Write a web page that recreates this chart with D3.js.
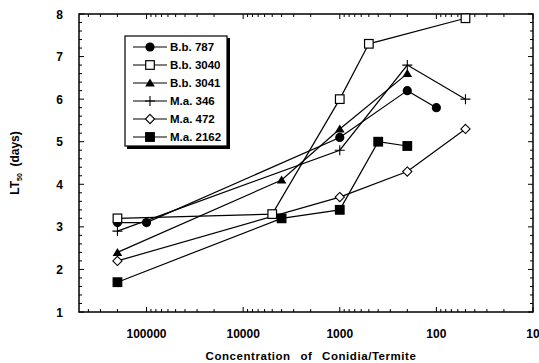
<!DOCTYPE html>
<html>
<head>
<meta charset="utf-8">
<script src="https://d3js.org/d3.v7.min.js"></script>
<style>
  body { margin: 0; background: #fff; }
  svg { display: block; }
  text { font-family: "Liberation Sans", Arial, sans-serif; font-weight: bold; fill: #000; }
</style>
</head>
<body>
<div id="chart"></div>
<script>
// LT50 vs. conidia concentration (x axis is a reversed log scale)
const seriesNames = ["B.b. 787", "B.b. 3040", "B.b. 3041", "M.a. 346", "M.a. 472", "M.a. 2162"];
const seriesShapes = ["circle", "openSquare", "triangle", "plus", "openDiamond", "square"];

const bb787Conc = [200000, 100000, 1000, 200, 100];
const bb787LT = [3.1, 3.1, 5.1, 6.2, 5.8];
const bb3040Conc = [200000, 5000, 1000, 500, 50];
const bb3040LT = [3.2, 3.3, 6.0, 7.3, 7.9];
const bb3041Conc = [200000, 4000, 1000, 200];
const bb3041LT = [2.4, 4.1, 5.3, 6.6];
const ma346Conc = [200000, 1000, 200, 50];
const ma346LT = [2.9, 4.8, 6.8, 6.0];
const ma472Conc = [200000, 1000, 200, 50];
const ma472LT = [2.2, 3.7, 4.3, 5.3];
const ma2162Conc = [200000, 4000, 1000, 400, 200];
const ma2162LT = [1.7, 3.2, 3.4, 5.0, 4.9];

const xTickLabels = [100000, 10000, 1000, 100, 10];
const yTickLabels = [1, 2, 3, 4, 5, 6, 7, 8];

const allConc = [bb787Conc, bb3040Conc, bb3041Conc, ma346Conc, ma472Conc, ma2162Conc];
const allLT = [bb787LT, bb3040LT, bb3041LT, ma346LT, ma472LT, ma2162LT];

const width = 539, height = 363;
const plot = { left: 79, right: 533, top: 14, bottom: 312 };

const svg = d3.select('#chart').append('svg')
    .attr('width', width)
    .attr('height', height);

const x = d3.scaleLog().domain([500000, 10]).range([plot.left, plot.right]);
const y = d3.scaleLinear().domain([1, 8]).range([plot.bottom, plot.top]);

// frame ticks (inward on all four sides)
const ticks = svg.append('g').attr('stroke', '#000').attr('stroke-width', 1);
const xt = x.ticks().filter(v => v < 500000 && v >= 10);
xt.forEach(v => {
    const major = xTickLabels.includes(v);
    const len = major ? 5 : 3;
    const px = x(v);
    ticks.append('line').attr('x1', px).attr('x2', px).attr('y1', plot.bottom).attr('y2', plot.bottom - len);
    ticks.append('line').attr('x1', px).attr('x2', px).attr('y1', plot.top).attr('y2', plot.top + len);
});
d3.range(1, 8.01, 0.2).forEach(v => {
    const major = Math.abs(v - Math.round(v)) < 1e-6;
    const len = major ? 5 : 3;
    const py = y(v);
    ticks.append('line').attr('x1', plot.left).attr('x2', plot.left + len).attr('y1', py).attr('y2', py);
    ticks.append('line').attr('x1', plot.right).attr('x2', plot.right - len).attr('y1', py).attr('y2', py);
});

svg.append('rect')
    .attr('x', plot.left).attr('y', plot.top)
    .attr('width', plot.right - plot.left).attr('height', plot.bottom - plot.top)
    .attr('fill', 'none').attr('stroke', '#000').attr('stroke-width', 1.5);

// tick labels
svg.append('g').selectAll('text').data(xTickLabels).join('text')
    .attr('x', d => x(d)).attr('y', 338)
    .attr('text-anchor', 'middle').attr('font-size', 12)
    .text(d => d);

svg.append('g').selectAll('text').data(yTickLabels).join('text')
    .attr('x', 63).attr('y', d => y(d) + 4.5)
    .attr('text-anchor', 'end').attr('font-size', 12)
    .text(d => d);

// axis titles
svg.append('text')
    .attr('x', 311).attr('y', 360)
    .attr('text-anchor', 'middle').attr('font-size', 11.5)
    .attr('letter-spacing', 0.55).attr('word-spacing', 6)
    .text('Concentration of Conidia/Termite');

const yTitle = svg.append('text')
    .attr('transform', 'translate(19,163) rotate(-90)')
    .attr('text-anchor', 'middle').attr('font-size', 12);
yTitle.append('tspan').text('LT');
yTitle.append('tspan').attr('font-size', 7).attr('dy', 3).text('50');
yTitle.append('tspan').attr('dy', -3).text('\u00a0 (days)');

// markers
function drawMarker(g, shape) {
    if (shape === 'circle') {
        g.append('circle').attr('r', 4.6).attr('fill', '#000');
    } else if (shape === 'openSquare' || shape === 'square') {
        g.append('rect').attr('x', -4.3).attr('y', -4.3).attr('width', 8.6).attr('height', 8.6)
            .attr('fill', shape === 'square' ? '#000' : '#fff')
            .attr('stroke', '#000').attr('stroke-width', 1.2);
    } else if (shape === 'triangle') {
        g.append('path').attr('d', 'M0,-4.5L4.8,3.5L-4.8,3.5Z').attr('fill', '#000');
    } else if (shape === 'plus') {
        g.append('path').attr('d', 'M-5,0H5M0,-5V5').attr('stroke', '#000').attr('stroke-width', 1.1);
    } else if (shape === 'openDiamond') {
        g.append('path').attr('d', 'M0,-4.6L4.6,0L0,4.6L-4.6,0Z')
            .attr('fill', '#fff').attr('stroke', '#000').attr('stroke-width', 1.1);
    }
}

const line = d3.line().x(d => x(d[0])).y(d => y(d[1]));
const series = seriesNames.map((name, i) => ({
    name,
    shape: seriesShapes[i],
    points: allConc[i].map((c, j) => [c, allLT[i][j]])
}));

const lines = svg.append('g');
series.forEach(s => {
    lines.append('path').attr('d', line(s.points))
        .attr('fill', 'none').attr('stroke', '#000').attr('stroke-width', 1.2);
});
series.forEach(s => {
    s.points.forEach(p => {
        const g = svg.append('g').attr('transform', `translate(${x(p[0])},${y(p[1])})`);
        drawMarker(g, s.shape);
    });
});

// legend with drop shadow
const legend = svg.append('g');
legend.append('rect').attr('x', 127).attr('y', 38).attr('width', 103).attr('height', 111).attr('fill', '#000');
legend.append('rect').attr('x', 125).attr('y', 36).attr('width', 102).attr('height', 110)
    .attr('fill', '#fff').attr('stroke', '#000').attr('stroke-width', 1.2);
series.forEach((s, i) => {
    const ly = 47 + i * 18;
    legend.append('line').attr('x1', 133).attr('x2', 167).attr('y1', ly).attr('y2', ly)
        .attr('stroke', '#000').attr('stroke-width', 1.2);
    drawMarker(legend.append('g').attr('transform', `translate(150,${ly})`), s.shape);
    legend.append('text').attr('x', 170).attr('y', ly + 4.2).attr('font-size', 11.5).text(s.name);
});
</script>
</body>
</html>
